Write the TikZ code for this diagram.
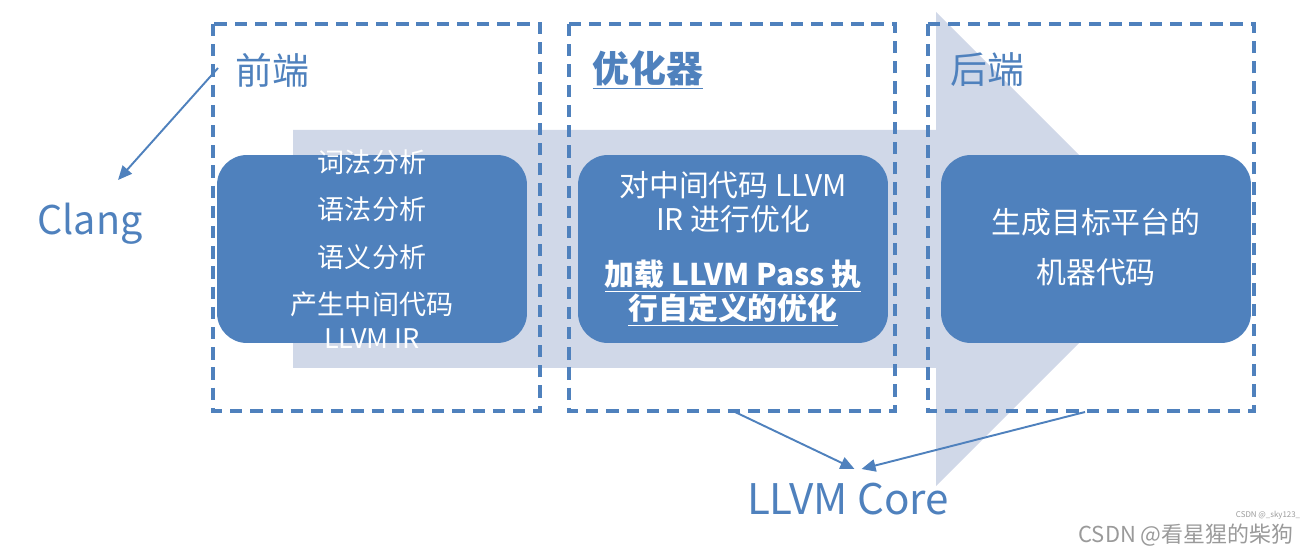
\documentclass[tikz,border=0pt]{standalone}
\usepackage{fontspec}
\setmainfont{Noto Sans CJK SC}
\usetikzlibrary{arrows.meta}

\definecolor{llvmblue}{HTML}{4F81BD}
\definecolor{flowgray}{HTML}{D0D8E8}
\definecolor{markgray}{HTML}{9A9A9A}

\begin{document}
\begin{tikzpicture}[
  x=0.02cm, y=-0.02cm,
  stage/.style={draw=llvmblue, line width=2pt, dash pattern=on 7pt off 4.5pt},
  card/.style={fill=llvmblue, rounded corners=17pt, minimum width=6.2cm, minimum height=3.76cm, inner sep=0pt},
  cardtext/.style={text=white, align=center, font=\fontsize{15.4}{19}\selectfont},
  bigcardtext/.style={cardtext, font=\fontsize{17}{19.3}\selectfont},
  stagetitle/.style={text=llvmblue, font=\fontsize{21}{25}\selectfont},
  bigtext/.style={text=llvmblue, font=\fontsize{24}{28}\selectfont},
  arr/.style={-{Triangle[length=8pt,width=7pt]}, llvmblue, line width=1.1pt},
]
\useasboundingbox (0,0) rectangle (1307,553);

% ====== FLOW ARROW ======
\fill[flowgray] (293,130) -- (936,130) -- (936,12) -- (1173,249) -- (936,486) -- (936,368) -- (293,368) -- cycle;

% ====== STAGES ======
\draw[stage] (213,24) rectangle (540,411);
\draw[stage] (569,24) rectangle (895,411);
\draw[stage] (928,24) rectangle (1254,411);

\node[stagetitle] (fronttitle) at (272,70) {前端};
\node[stagetitle, font=\fontsize{21}{25}\selectfont\bfseries] (opttitle) at (648,70) {\underline{优化器}};
\node[stagetitle] (backtitle) at (987,70) {后端};

% Front end
\node[card] (front) at (372,249) {};
\node[cardtext] (fronttext) at (372,249) {词法分析\\[8pt]语法分析\\[8pt]语义分析\\[8pt]产生中间代码\\LLVM IR};

% Optimizer
\node[card] (opt) at (733,249) {};
\node[bigcardtext] (opttext) at (733,249) {对中间代码 LLVM\\IR 进行优化\\[12pt]
  \textbf{\underline{加载 LLVM Pass 执}}\\\textbf{\underline{行自定义的优化}}};

% Back end
\node[card] (back) at (1096,249) {};
\node[bigcardtext] (backtext) at (1096,247) {生成目标平台的\\[9.2pt]机器代码};

% ====== LABELS ======
\node[bigtext, font=\fontsize{22.5}{27}\selectfont] (clang) at (90,224) {Clang};
\node[bigtext] (core) at (848,499) {LLVM Core};

\coordinate (clangfrom) at (218,68);
\coordinate (clangto) at (118,180);
\coordinate (optfrom) at (735,412);
\coordinate (backfrom) at (1085,412);
\coordinate (coreto) at (858,469);

\draw[arr] (clangfrom) -- (clangto);
\draw[arr] (optfrom) -- ([xshift=-2pt]coreto);
\draw[arr] (backfrom) -- ([xshift=2pt]coreto);

% watermark
\node[text=markgray, font=\fontsize{4.5}{5}\selectfont] (mark1) at (1268,515) {CSDN @\_sky123\_};
\node[text=markgray, font=\fontsize{12.5}{14}\selectfont] (mark2) at (1186,535) {CSDN @看星猩的柴狗};

\end{tikzpicture}
\end{document}
